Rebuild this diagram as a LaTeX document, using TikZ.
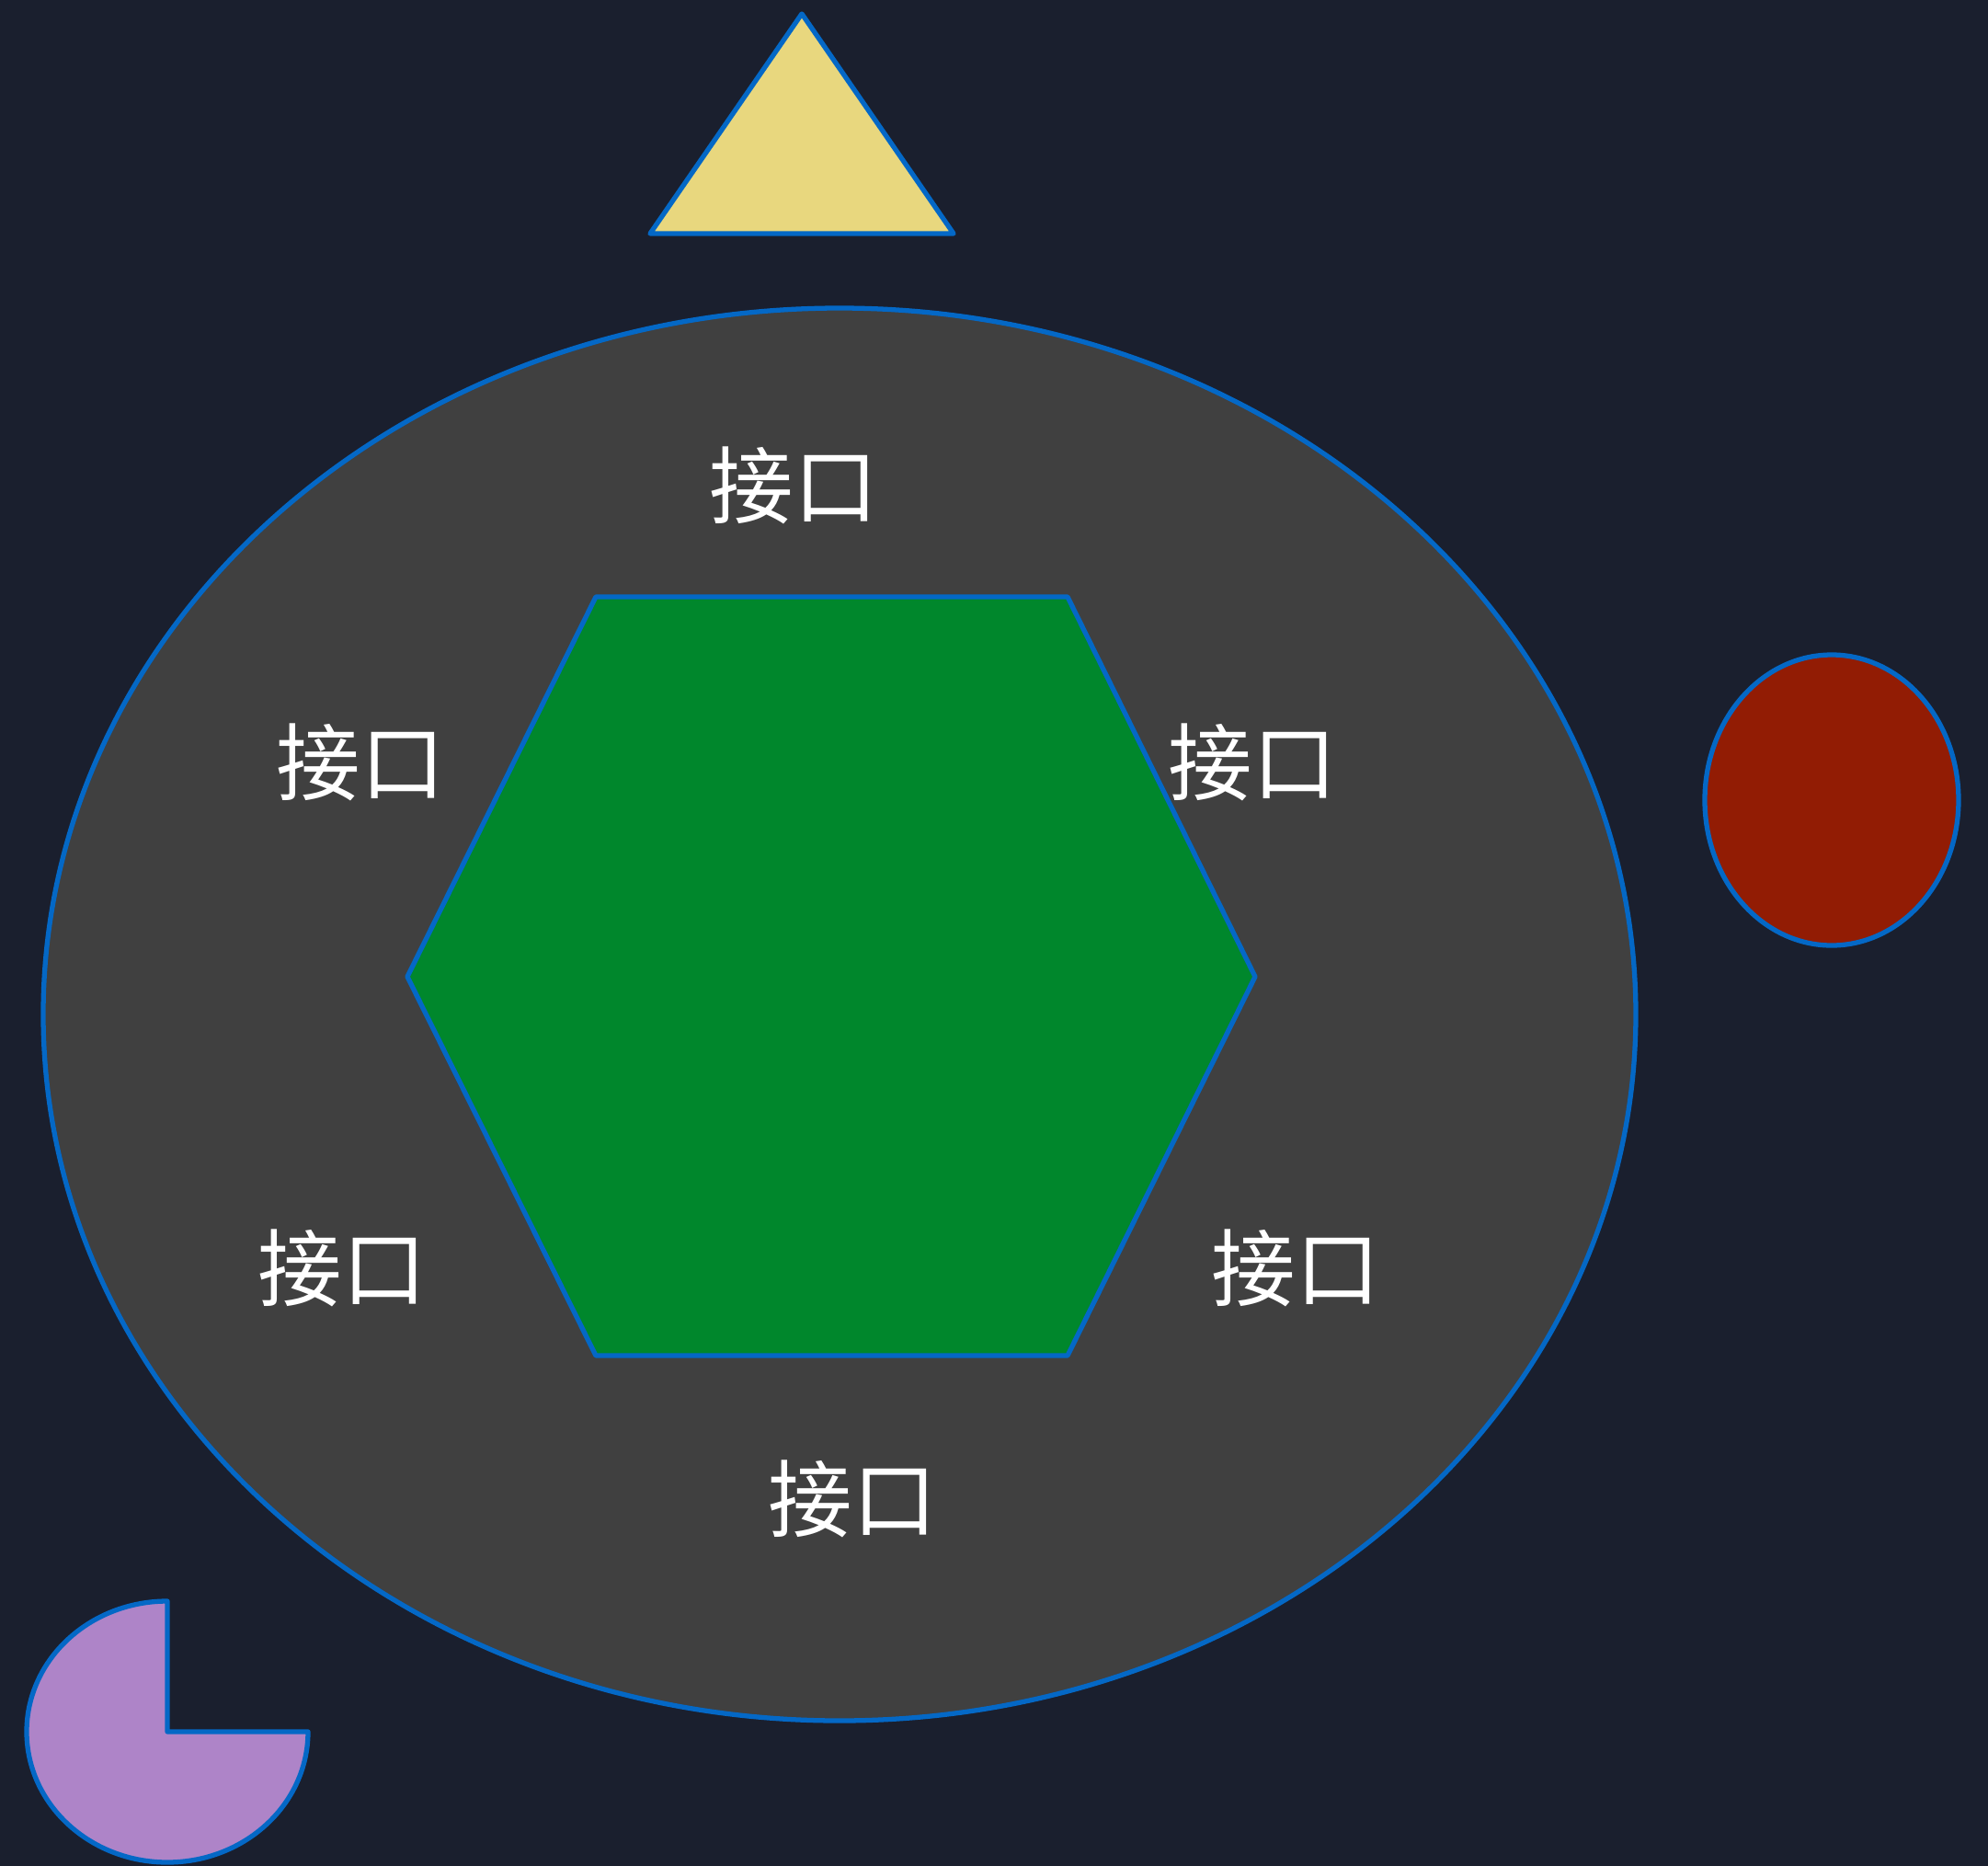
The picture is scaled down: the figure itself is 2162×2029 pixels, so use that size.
\documentclass[tikz,border=0pt]{standalone}
\usepackage{fontspec}
\newfontfamily\cjk{Noto Sans CJK SC}
\definecolor{bg}{HTML}{1A1F2E}
\definecolor{edge}{HTML}{0468C6}
\definecolor{ringfill}{HTML}{404040}
\definecolor{hexfill}{HTML}{00872C}
\definecolor{trifill}{HTML}{E8D77E}
\definecolor{redfill}{HTML}{921C04}
\definecolor{pinkfill}{HTML}{AE84C8}
\tikzset{
  outl/.style={draw=edge, line width=1.5pt, line join=round},
  lbl/.style={text=white, font=\cjk\fontsize{26}{30}\selectfont, inner sep=0pt}
}
\begin{document}
\begin{tikzpicture}[x=0.01cm,y=-0.01cm]
\fill[bg] (0,0) rectangle (2162,2029);
\useasboundingbox (0,0) rectangle (2162,2029);
% triangle
\filldraw[outl, fill=trifill] (872,15) -- (1037,254) -- (707,254) -- cycle;
% big ellipse
\filldraw[outl, fill=ringfill] (913,1103) ellipse [x radius=866, y radius=768];
% hexagon
\filldraw[outl, fill=hexfill] (648,649) -- (1161,649) -- (1365,1062) -- (1161,1474) -- (648,1474) -- (443,1062) -- cycle;
% red circle
\filldraw[outl, fill=redfill] (1992,870) ellipse [x radius=138, y radius=158];
% pie
\filldraw[outl, fill=pinkfill] (182,1883) -- (182,1741) arc[start angle=270, end angle=0, x radius=153, y radius=142] -- cycle;
% labels
\node[lbl] (l1) at (863,528) {接口};
\node[lbl] (l2) at (392,829) {接口};
\node[lbl] (l3) at (1362,829) {接口};
\node[lbl] (l4) at (372,1379) {接口};
\node[lbl] (l5) at (1409,1379) {接口};
\node[lbl] (l6) at (927,1630) {接口};
\end{tikzpicture}
\end{document}
